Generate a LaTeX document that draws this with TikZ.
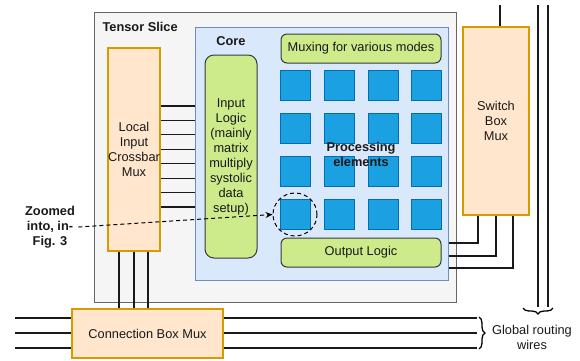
\documentclass[tikz,border=0pt]{standalone}
\usepackage{fontspec}
\setmainfont{Liberation Sans}
\usepackage{xcolor}
\usetikzlibrary{arrows.meta,positioning,shapes.geometric,decorations.pathreplacing,calc}

\definecolor{slicefill}{HTML}{F5F5F5}
\definecolor{slicedraw}{HTML}{666666}
\definecolor{corefill}{HTML}{DAE8FC}
\definecolor{coredraw}{HTML}{6C8EBF}
\definecolor{muxfill}{HTML}{FFE6CC}
\definecolor{muxdraw}{HTML}{D79B00}
\definecolor{logicfill}{HTML}{CDEB8B}
\definecolor{logicdraw}{HTML}{36393D}
\definecolor{pefill}{HTML}{1BA1E2}
\definecolor{pedraw}{HTML}{006EAF}
\newcommand{\dfont}{\fontsize{12.8}{15}\selectfont}

\begin{document}
\begin{tikzpicture}[x=1pt, y=-1pt,
    every node/.style={font=\dfont, text=black!90},
    box/.style={draw, inner sep=0pt, align=center, line width=1pt},
    slice/.style={box, fill=slicefill, draw=slicedraw},
    core/.style={box, fill=corefill, draw=coredraw},
    mux/.style={box, fill=muxfill, draw=muxdraw, line width=1.2pt},
    logic/.style={box, fill=logicfill, draw=logicdraw, rounded corners=6pt},
    pe/.style={box, fill=pefill, draw=pedraw, minimum width=30pt, minimum height=30pt},
    title/.style={font=\dfont\bfseries},
    wire/.style={line width=1.1pt, black!90},
    darrow/.style={line width=1pt, dash pattern=on 4pt off 3pt, -{Stealth[length=7pt,width=6pt]}},
    brc/.style={decorate, decoration={brace, amplitude=6pt}, line width=1.3pt}
]
\useasboundingbox (0,0) rectangle (580,360);

% --- Tensor slice and core ---
\node[slice, minimum width=362pt, minimum height=290pt] (slice) at (275,157) {};
\node[title, anchor=west] (slicelbl) at (99,27) {Tensor Slice};
\node[core, minimum width=253pt, minimum height=253pt] (core) at (321.5,153.5) {};
\node[title] (corelbl) at (231,41) {Core};

% --- Muxes ---
\node[mux, minimum width=52pt, minimum height=203pt] (lcm) at (134,149.5)
    {Local\\Input\\Crossbar\\Mux};
\node[mux, minimum width=66pt, minimum height=188pt] (sbm) at (496,121)
    {Switch\\Box\\Mux};
\node[mux, minimum width=151pt, minimum height=49pt] (cbm) at (147.5,333.5)
    {Connection Box Mux};

% --- Core logic ---
\node[logic, rounded corners=9pt, minimum width=52pt, minimum height=203pt] (inlogic) at (231,156.5)
    {Input\\Logic\\(mainly\\matrix\\multiply\\systolic\\data\\setup)};
\node[logic, minimum width=160pt, minimum height=29pt] (muxing) at (361,48.5)
    {Muxing for various modes};
\node[logic, minimum width=160pt, minimum height=29pt] (outlogic) at (361,252.5)
    {Output Logic};

% --- Processing elements ---
\foreach \c/\x in {1/295,2/339,3/383,4/426}
  \foreach \r/\y in {1/85,2/128,3/171,4/214}
    \node[pe] (pe\r\c) at (\x,\y) {};
\node[title, align=center] (pelbl) at (361,154) {Processing\\elements};

% --- Zoom marker ---
\node[ellipse, draw, line width=1pt, dash pattern=on 4pt off 3pt, minimum width=44pt, minimum height=43pt] (circ) at (295,214.5) {};
\node[title, align=center] (zoomlbl) at (50,227) {Zoomed\\into, in-\\Fig. 3};
\draw[darrow] (zoomlbl.east) -- (circ.west);

% --- Wires: local crossbar to core ---
\foreach \i in {0,...,7}
  \draw[wire] (lcm.east |- 0,{106+14.43*\i}) -- (core.west |- 0,{106+14.43*\i});

% --- Wires: connection box to local crossbar ---
\foreach \dx in {-15,0,14}
  \draw[wire] ([xshift=\dx pt]lcm.south) -- ([xshift=\dx pt]lcm.south |- cbm.north);

% --- Wires: output logic to switch box ---
\draw[wire] (core.east |- 0,243) -| ([xshift=-18pt]sbm.south);
\draw[wire] (core.east |- 0,256) -| (sbm.south);
\draw[wire] (core.east |- 0,268) -| ([xshift=17pt]sbm.south);
\coordinate (sbtop) at (500,5);
\draw[wire] (sbtop) -- (sbtop |- sbm.north);

% --- Global routing wires ---
\coordinate (gv1) at (538,5);
\coordinate (gv2) at (548,5);
\draw[wire] (gv1) -- (538,307);
\draw[wire] (gv2) -- (548,307);
\foreach \y in {318,333,348} {
  \draw[wire] (15,\y) -- (cbm.west |- 0,\y);
  \draw[wire] (cbm.east |- 0,\y) -- (477,\y);
}
\draw[brc] (553,308) -- (523,308);
\draw[brc] (479,317) -- (479,349);
\node[align=center] (globlbl) at (532,337) {Global routing\\wires};

\end{tikzpicture}
\end{document}
